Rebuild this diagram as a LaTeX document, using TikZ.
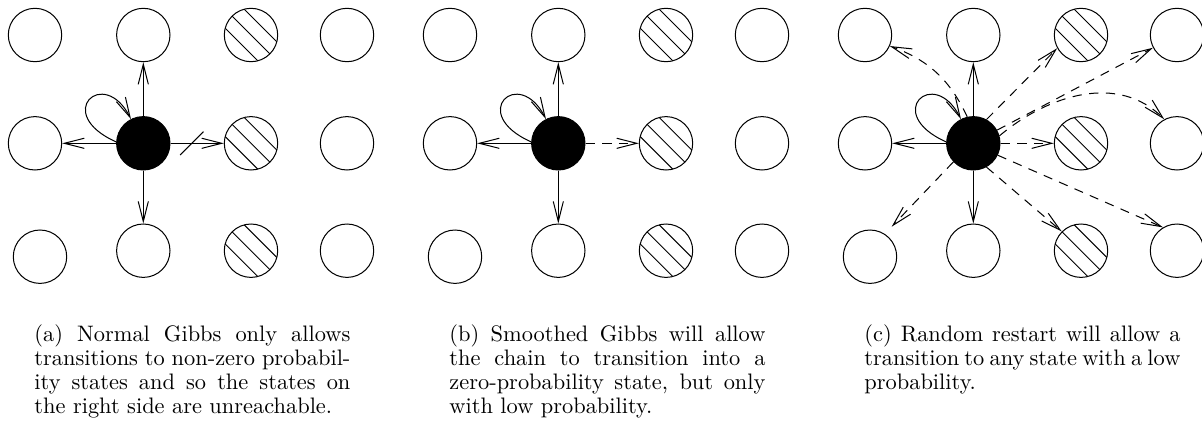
\documentclass[tikz,border=0pt]{standalone}
\usepackage{tikz}
\usetikzlibrary{arrows.meta}

\begin{document}
\begin{tikzpicture}[
        x=0.4541pt, y=0.4541pt,
        state/.style={
            circle,
            draw,
            line width=0.46pt,
            inner sep=0pt,
            minimum size=24.25pt
        },
        current/.style={
            state,
            fill=black
        },
        blocked/.style={
            state,
            path picture={
                \foreach \o in {-4.33pt, 0pt, 4.33pt}
                    \draw[line width=0.42pt] ([shift={(\o,\o)}]path picture bounding box.center)
                        ++(-20pt,20pt) -- ++(40pt,-40pt);
            }
        },
        arr/.style={
            -{Straight Barb[length=9.1pt,width=4.6pt]},
            line width=0.46pt
        },
        darr/.style={
            arr,
            dash pattern=on 4.2pt off 3.4pt
        },
        caption/.style={
            text width=143.5pt,
            align=justify,
            inner sep=0pt,
            anchor=north west,
            font=\fontsize{10.17pt}{11pt}\selectfont
        }
    ]

        \useasboundingbox (0,0) rectangle (1202,-423);

        % The same grid of states in all three panels
        \foreach \p/\dx in {a/0, b/415, c/830} {
            \begin{scope}[shift={(\dx,0)}]
                \node[state]   (\p11) at (35,-35) {};
                \node[state]   (\p12) at (143.3,-35) {};
                \node[blocked] (\p13) at (251,-35) {};
                \node[state]   (\p14) at (347,-35) {};

                \node[state]   (\p21) at (35,-143.3) {};
                \node[current] (\p22) at (143.3,-143.3) {};
                \node[blocked] (\p23) at (251,-143.3) {};
                \node[state]   (\p24) at (347,-143.3) {};

                \node[state]   (\p31) at (40,-256.7) {};
                \node[state]   (\p32) at (143.3,-250.7) {};
                \node[blocked] (\p33) at (251,-250.7) {};
                \node[state]   (\p34) at (347,-250.7) {};

                % Moves to the neighbours and staying put
                \draw[arr] (\p22) -- (\p12);
                \draw[arr] (\p22) -- (\p21);
                \draw[arr] (\p22) -- (\p32);
                \draw[arr] (\p22.177) .. controls +(156:70) and +(117:60) .. (\p22.117);
            \end{scope}
        }

        % (a) blocked move
        \draw[arr] (a22) -- coordinate[pos=0.4] (cut) (a23);
        \draw[line width=0.46pt] (cut) ++(225:16.5) -- ++(45:33);

        % (b) smoothed move
        \draw[darr] (b22) -- (b23);

        % (c) restarts
        \draw[darr] (c22.103) to[out=115, in=-20] (c11.-24);
        \draw[darr] (c22.61) -- (c13.209);
        \draw[darr] (c22.29) -- (c14.208);
        \draw[darr] (c22.16) to[out=40, in=135] (c24.118);
        \draw[darr] (c22) -- (c23);
        \draw[darr] (c22.-61) -- (c33.135);
        \draw[darr] (c22.-26) -- (c34.121);
        \draw[darr, shorten >=4.5pt] (c22.223) -- (c31.57);

        % Captions
        \node[caption] (capa) at (34,-324) {(a) Normal Gibbs only allows transitions to non-zero probability states and so the states on\linebreak the right side are unreachable.};
        \node[caption] (capb) at (449,-324) {(b) Smoothed Gibbs will allow the chain to transition into a zero-probability state, but only with low probability.};
        \node[caption] (capc) at (864,-324) {(c) Random restart will allow a transition to any state with a low probability.};

    \end{tikzpicture}
\end{document}
